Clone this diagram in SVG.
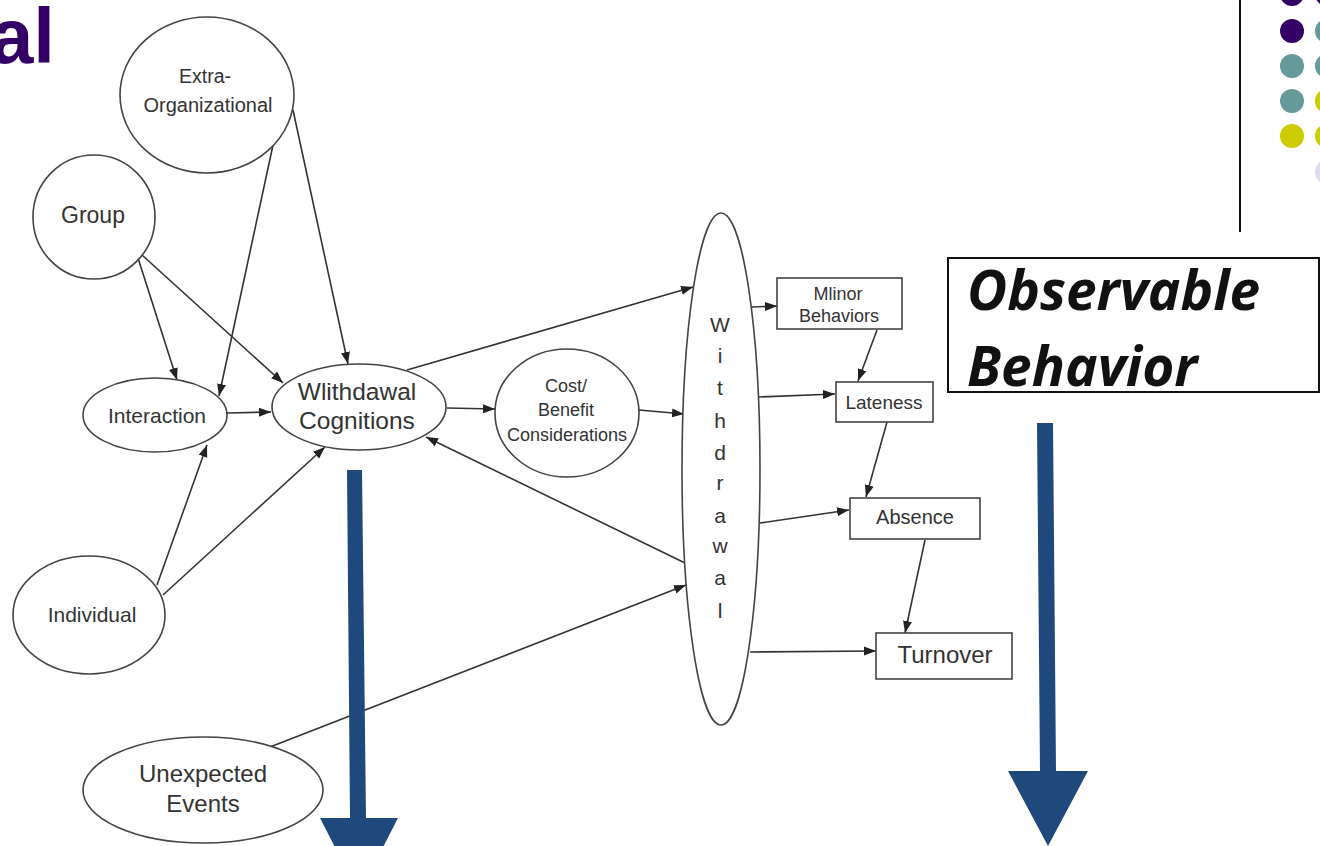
<svg xmlns="http://www.w3.org/2000/svg" width="1320" height="846" viewBox="0 0 1320 846">
<defs>
<marker id="ah" markerUnits="userSpaceOnUse" markerWidth="13" markerHeight="10" refX="12" refY="5" orient="auto">
<path d="M0,0.5 L12,5 L0,9.5 z" fill="#222"/>
</marker>
<style>
.nd{fill:#fff;stroke:#444;stroke-width:1.6}
.bx{fill:#fff;stroke:#444;stroke-width:1.6}
.t{font-family:"Liberation Sans",Arial,sans-serif;fill:#333;text-anchor:middle}
.c{stroke:#333;stroke-width:1.6;fill:none;marker-end:url(#ah)}
.big{fill:#1F497D}
.ob{font-family:"Open Sans","Liberation Sans",sans-serif;font-weight:bold;font-style:italic;font-size:55px;fill:#111}
</style>
</defs>
<rect width="1320" height="846" fill="#fff"/>

<text x="55" y="63" font-family="Liberation Sans, Arial, sans-serif" font-weight="bold" font-size="78" fill="#330066" text-anchor="end">al</text>

<g id="bullets">
<line x1="1240" y1="0" x2="1240" y2="232" stroke="#111" stroke-width="2"/>
<circle cx="1292" cy="-6" r="12" fill="#330066"/>
<circle cx="1327" cy="-6" r="12" fill="#330066"/>
<circle cx="1292" cy="31" r="12" fill="#330066"/>
<circle cx="1327" cy="31" r="12" fill="#669999"/>
<circle cx="1292" cy="66" r="12" fill="#669999"/>
<circle cx="1327" cy="66" r="12" fill="#669999"/>
<circle cx="1292" cy="101" r="12" fill="#669999"/>
<circle cx="1327" cy="101" r="12" fill="#cccc00"/>
<circle cx="1292" cy="136" r="12" fill="#cccc00"/>
<circle cx="1327" cy="136" r="12" fill="#cccc00"/>
<circle cx="1327" cy="172" r="12" fill="#ddddee"/>
</g>

<g id="connectors">
<line class="c" x1="293" y1="110" x2="348" y2="364"/>
<line class="c" x1="273" y1="145" x2="219" y2="396"/>
<line class="c" x1="138" y1="258" x2="177" y2="380"/>
<line class="c" x1="142" y1="255" x2="283" y2="383"/>
<line class="c" x1="227" y1="413" x2="271" y2="412"/>
<line class="c" x1="157" y1="585" x2="207" y2="445"/>
<line class="c" x1="163" y1="595" x2="325" y2="447"/>
<line class="c" x1="447" y1="408" x2="495" y2="409"/>
<line class="c" x1="639" y1="410" x2="684" y2="414"/>
<line class="c" x1="685" y1="563" x2="426" y2="437"/>
<line class="c" x1="407" y1="370" x2="693" y2="287"/>
<line class="c" x1="270" y1="747" x2="686" y2="585"/>
<line class="c" x1="752" y1="307" x2="777" y2="306"/>
<line class="c" x1="877" y1="330" x2="858" y2="381"/>
<line class="c" x1="758" y1="397" x2="835" y2="394"/>
<line class="c" x1="887" y1="422" x2="866" y2="497"/>
<line class="c" x1="760" y1="523" x2="849" y2="510"/>
<line class="c" x1="925" y1="540" x2="905" y2="633"/>
<line class="c" x1="750" y1="652" x2="876" y2="651"/>
</g>

<g id="extra-org">
<ellipse class="nd" cx="207" cy="95" rx="87" ry="78"/>
<text class="t" x="205" y="83" font-size="19.5">Extra-</text>
<text class="t" x="208" y="112" font-size="20">Organizational</text>
</g>
<g id="group">
<ellipse class="nd" cx="94" cy="217" rx="61" ry="62"/>
<text class="t" x="93" y="223" font-size="23">Group</text>
</g>
<g id="interaction">
<ellipse class="nd" cx="155" cy="415" rx="72" ry="37"/>
<text class="t" x="157" y="423" font-size="21">Interaction</text>
</g>
<g id="withdrawal-cognitions">
<ellipse class="nd" cx="359" cy="407" rx="87" ry="43"/>
<text class="t" x="357" y="400" font-size="24.5">Wlithdawal</text>
<text class="t" x="357" y="429" font-size="24.5">Cognitions</text>
</g>
<g id="cost-benefit">
<ellipse class="nd" cx="567" cy="413" rx="72" ry="64"/>
<text class="t" x="566" y="392" font-size="18">Cost/</text>
<text class="t" x="566" y="416" font-size="18">Benefit</text>
<text class="t" x="567" y="441" font-size="18">Considerations</text>
</g>
<g id="individual">
<ellipse class="nd" cx="89" cy="615" rx="76" ry="59"/>
<text class="t" x="92" y="622" font-size="21">Individual</text>
</g>
<g id="unexpected">
<ellipse class="nd" cx="203" cy="790" rx="120" ry="53"/>
<text class="t" x="203" y="782" font-size="24">Unexpected</text>
<text class="t" x="203" y="812" font-size="24">Events</text>
</g>
<g id="withdrawal">
<ellipse class="nd" cx="721" cy="469" rx="39" ry="256"/>
<text class="t" x="720" y="332" font-size="21">W</text>
<text class="t" x="720" y="363" font-size="21">i</text>
<text class="t" x="720" y="395" font-size="21">t</text>
<text class="t" x="720" y="428" font-size="21">h</text>
<text class="t" x="720" y="460" font-size="21">d</text>
<text class="t" x="720" y="490" font-size="21">r</text>
<text class="t" x="720" y="523" font-size="21">a</text>
<text class="t" x="720" y="553" font-size="21">w</text>
<text class="t" x="720" y="585" font-size="21">a</text>
<text class="t" x="720" y="618" font-size="21">l</text>
</g>
<g id="minor-behaviors">
<rect class="bx" x="777" y="278" width="125" height="51"/>
<text class="t" x="838" y="300" font-size="18">Mlinor</text>
<text class="t" x="839" y="322" font-size="18">Behaviors</text>
</g>
<g id="lateness">
<rect class="bx" x="836" y="382" width="97" height="40"/>
<text class="t" x="884" y="409" font-size="19">Lateness</text>
</g>
<g id="absence">
<rect class="bx" x="850" y="498" width="130" height="41"/>
<text class="t" x="915" y="524" font-size="20">Absence</text>
</g>
<g id="turnover">
<rect class="bx" x="876" y="633" width="136" height="46"/>
<text class="t" x="945" y="663" font-size="24">Turnover</text>
</g>

<g id="observable-behavior">
<rect x="948" y="258" width="371" height="134" fill="#fff" stroke="#111" stroke-width="2"/>
<text class="ob" x="967" y="310">Observable</text>
<text class="ob" x="967" y="386">Behavior</text>
</g>

<g id="big-arrows">
<polygon class="big" points="347,470 362,470 366,818 398,818 359,894 320,818 350,818"/>
<polygon class="big" points="1037,423 1053,423 1056,771 1088,771 1048,846 1008,771 1040,771"/>
</g>
</svg>
